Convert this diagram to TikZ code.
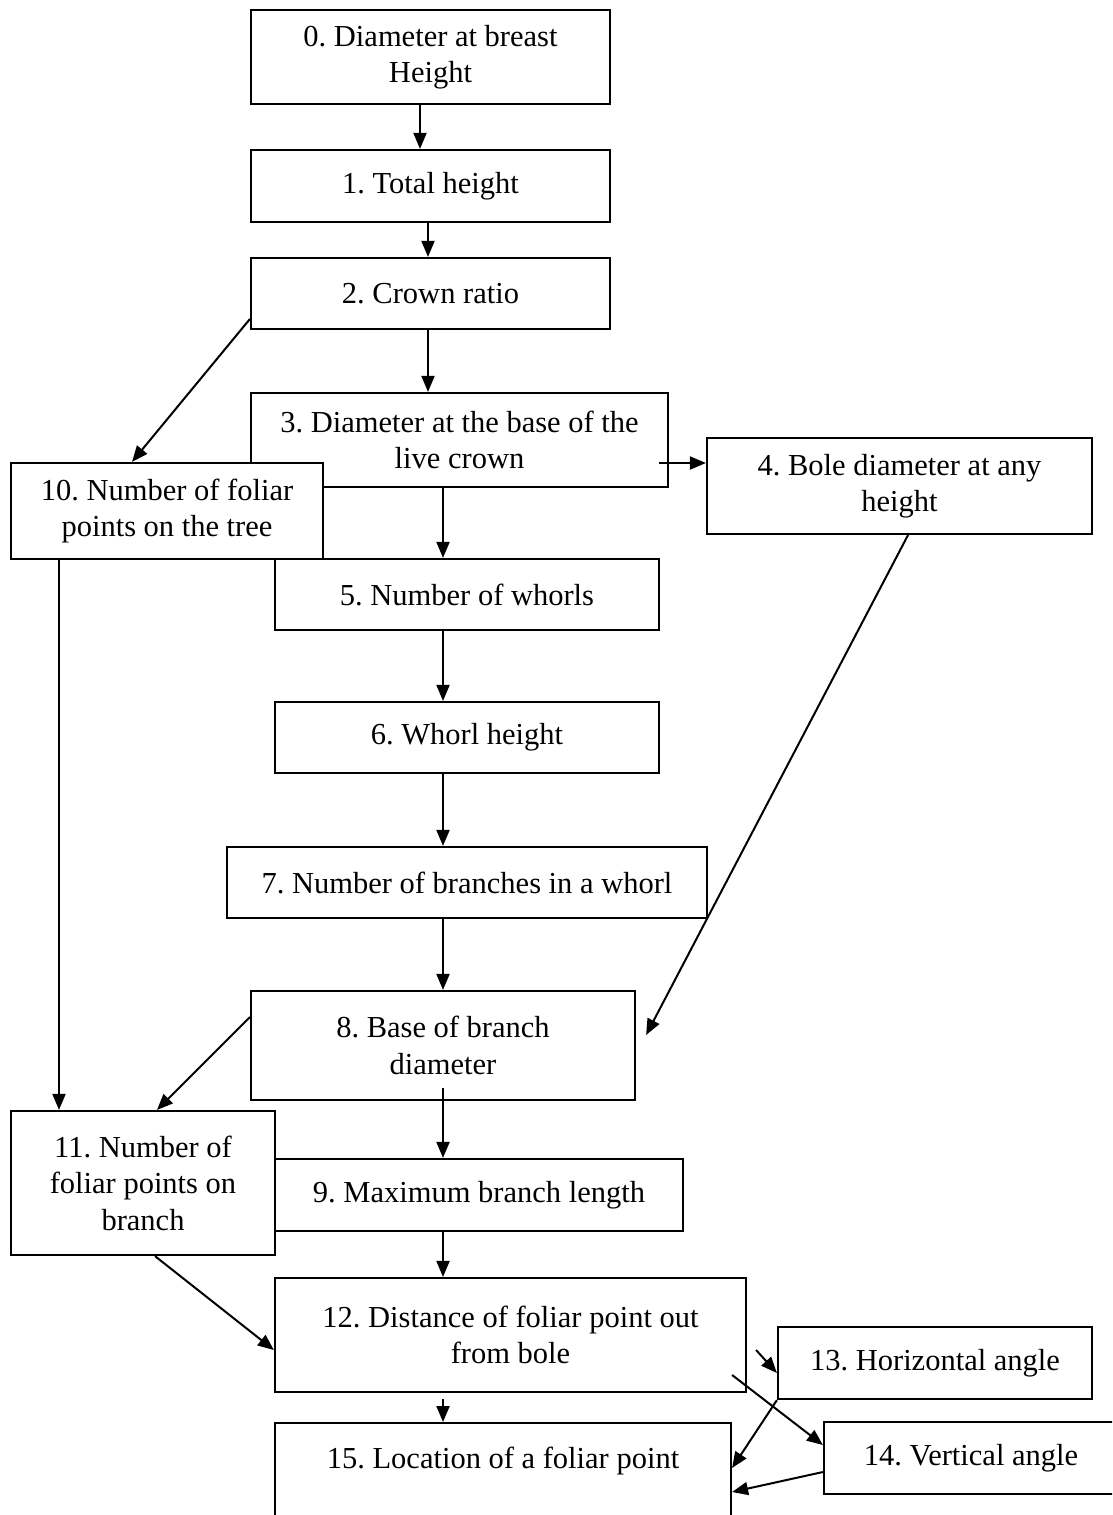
\documentclass[tikz,border=0pt]{standalone}
\usepackage{fontspec}
\setmainfont{Liberation Serif}
\usepackage{tikz}
\usetikzlibrary{arrows.meta}
\frenchspacing

\begin{document}
\begin{tikzpicture}[x=1pt,y=-1pt,>={Triangle[length=16pt,width=13pt]},
  box/.style={draw,line width=2.2pt,align=center,inner sep=0pt},
  arr/.style={->,line width=2pt},
  font=\fontsize{30.5}{36.5}\selectfont]
\useasboundingbox (0,0) rectangle (1112,1515);
\clip (0,0) rectangle (1112,1515);
% boxes
\node[box,minimum width=359pt,minimum height=94pt] (dbh) at (430.5,57) {0. Diameter at breast\\Height};
\node[box,minimum width=359pt,minimum height=72pt] (toth) at (430.5,186) {1. Total height};
\node[box,minimum width=359pt,minimum height=71pt] (crown) at (430.5,293.5) {2. Crown ratio};
\node[box,minimum width=417pt,minimum height=94pt] (dblc) at (459.5,440) {3. Diameter at the base of the\\live crown};
\node[box,minimum width=385pt,minimum height=96pt] (bole) at (899.5,486) {4. Bole diameter at any\\height};
\node[box,minimum width=312pt,minimum height=96pt,fill=white] (fptree) at (167,511) {10. Number of foliar\\points on the tree};
\node[box,minimum width=384pt,minimum height=71pt] (whorls) at (467,594.5) {5. Number of whorls};
\node[box,minimum width=384pt,minimum height=71pt] (whorlh) at (467,737.5) {6. Whorl height};
\node[box,minimum width=480pt,minimum height=71pt] (branches) at (467,882.5) {7. Number of branches in a whorl};
\node[box,minimum width=384pt,minimum height=109pt] (bbd) at (443,1045.5) {8. Base of branch\\diameter};
\node[box,minimum width=264pt,minimum height=144pt] (fpbranch) at (143,1183) {11. Number of\\foliar points on\\branch};
\node[box,minimum width=408pt,minimum height=72pt] (maxlen) at (479,1195) {9. Maximum branch length};
\node[box,minimum width=471pt,minimum height=114pt] (dist) at (510.5,1335) {12. Distance of foliar point out\\from bole};
\node[box,minimum width=314pt,minimum height=72pt] (hangle) at (935,1363) {13. Horizontal angle};
\node[box,minimum width=294pt,minimum height=72pt] (vangle) at (971,1458) {14. Vertical angle};
\node[box,minimum width=456pt,anchor=north,inner ysep=24pt,text depth=80pt] (loc) at (503,1422) {15. Location of a foliar point};
% main column
\draw[arr] ([xshift=-10.5pt]dbh.south) -- ([xshift=-10.5pt]toth.north);
\draw[arr] ([xshift=-2.5pt]toth.south) -- ([xshift=-2.5pt]crown.north);
\draw[arr] ([xshift=-2.5pt]crown.south) -- ([xshift=-31.5pt]dblc.north);
\draw[arr] ([xshift=-16.5pt]dblc.south) -- ([xshift=-24pt]whorls.north);
\draw[arr] ([xshift=-24pt]whorls.south) -- ([xshift=-24pt]whorlh.north);
\draw[arr] ([xshift=-24pt]whorlh.south) -- ([xshift=-24pt]branches.north);
\draw[arr] ([xshift=-24pt]branches.south) -- (bbd.north);
\draw[arr] ([yshift=13pt]bbd.south) -- ([xshift=-36pt]maxlen.north);
\draw[arr] ([xshift=-36pt]maxlen.south) -- ([xshift=-67.5pt]dist.north);
\draw[arr] ([xshift=-67.5pt,yshift=-6pt]dist.south) -- ([xshift=-60pt]loc.north);
% side branches
\draw[arr] ([yshift=-25.5pt]crown.west) -- ([xshift=-35pt]fptree.north);
\draw[arr] ([xshift=-10pt,yshift=-23pt]dblc.east) -- ([yshift=23pt]bole.west);
\draw[arr] ([xshift=-108pt]fptree.south) -- ([xshift=-84pt]fpbranch.north);
\draw[arr] ([xshift=8.5pt]bole.south) -- ([xshift=10pt,yshift=10.5pt]bbd.east);
\draw[arr] ([yshift=28.5pt]bbd.west) -- ([xshift=14pt]fpbranch.north);
\draw[arr] ([xshift=12pt]fpbranch.south) -- ([yshift=-15pt]dist.west);
% angles
\draw[arr] ([xshift=9pt,yshift=-15pt]dist.east) -- ([yshift=-10pt]hangle.west);
\draw[arr] ([xshift=-15pt,yshift=-40pt]dist.east) -- ([yshift=13pt]vangle.west);
\draw[arr] (hangle.south west) -- ([yshift=-46pt]loc.north east);
\draw[arr] ([yshift=-14pt]vangle.west) -- ([yshift=-70pt]loc.north east);
\end{tikzpicture}
\end{document}
